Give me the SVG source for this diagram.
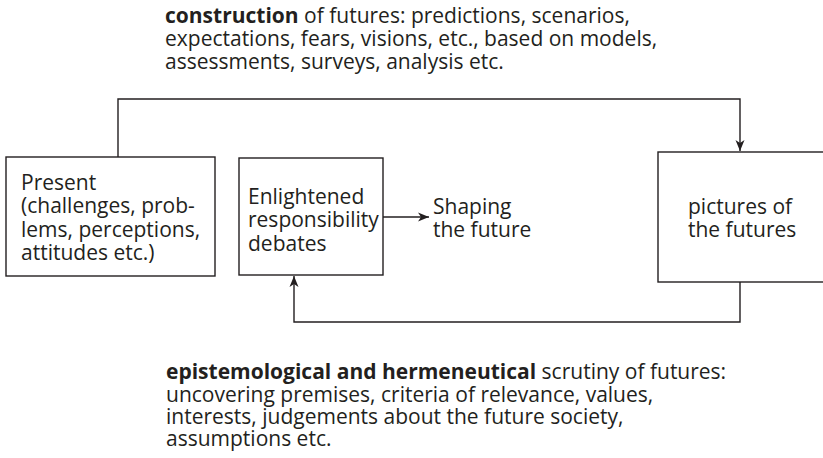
<svg xmlns="http://www.w3.org/2000/svg" width="823" height="458" viewBox="0 0 823 458">
<defs>
<style>
text{font-family:"Open Sans","Noto Sans","DejaVu Sans",sans-serif;font-size:21px;fill:#231f20}
.b{font-weight:bold}
.box{fill:#fff;stroke:#231f20;stroke-width:1.4}
.ln{fill:none;stroke:#231f20;stroke-width:1.4}
</style>
<marker id="ah" markerWidth="12" markerHeight="10" refX="11" refY="5" orient="auto" markerUnits="userSpaceOnUse">
<path d="M0,0.5 L11,5 L0,9.5 L3,5 Z" fill="#231f20"/>
</marker>
</defs>
<rect width="823" height="458" fill="#fff"/>
<g id="top-label">
<text x="165" y="23"><tspan class="b">construction</tspan> of futures: predictions, scenarios,<tspan x="165" dy="23">expectations, fears, visions, etc., based on models,</tspan><tspan x="165" dy="23">assessments, surveys, analysis etc.</tspan></text>
</g>
<g id="bottom-label">
<text x="166" y="379"><tspan class="b">epistemological and hermeneutical</tspan> scrutiny of futures:<tspan x="166" dy="23">uncovering premises, criteria of relevance, values,</tspan><tspan x="166" dy="22">interests, judgements about the future society,</tspan><tspan x="166" dy="22">assumptions etc.</tspan></text>
</g>
<g id="connectors">
<path class="ln" d="M118,157 V99 H740 V151" marker-end="url(#ah)"/>
<path class="ln" d="M740,282 V322 H294 V276" marker-end="url(#ah)"/>
<path class="ln" d="M383,217 H429" marker-end="url(#ah)"/>
</g>
<g id="present">
<rect class="box" x="6" y="157" width="209" height="119"/>
<text x="21" y="190">Present<tspan x="21" dy="23">(challenges, prob-</tspan><tspan x="21" dy="24">lems, perceptions,</tspan><tspan x="21" dy="23">attitudes etc.)</tspan></text>
</g>
<g id="enlightened">
<rect class="box" x="239" y="158" width="144" height="117"/>
<text x="248" y="204">Enlightened<tspan x="248" dy="23">responsibility</tspan><tspan x="248" dy="24">debates</tspan></text>
</g>
<g id="shaping">
<text x="433" y="214">Shaping<tspan x="433" dy="23">the future</tspan></text>
</g>
<g id="pictures">
<rect class="box" x="658" y="152" width="170" height="130"/>
<text x="688" y="214">pictures of<tspan x="688" dy="23">the futures</tspan></text>
</g>
</svg>
